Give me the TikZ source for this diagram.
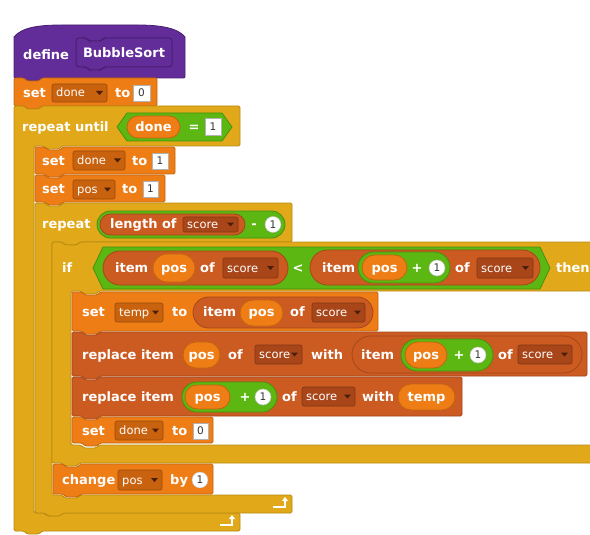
\documentclass[tikz,border=0pt]{standalone}
\usepackage{fontspec}
\setmainfont{DejaVu Sans}
\usetikzlibrary{arrows.meta}
\definecolor{ctrl}{HTML}{E1A91A}
\definecolor{ctrlD}{HTML}{B88A12}
\definecolor{var}{HTML}{EE7D16}
\definecolor{varD}{HTML}{C2650E}
\definecolor{varDD}{HTML}{C8620E}
\definecolor{lst}{HTML}{CC5B22}
\definecolor{lstD}{HTML}{A4471A}
\definecolor{lstDD}{HTML}{A8461A}
\definecolor{op}{HTML}{5CB712}
\definecolor{opD}{HTML}{47900D}
\definecolor{pur}{HTML}{632D99}
\definecolor{purD}{HTML}{472073}
\definecolor{ddarrow}{HTML}{4A1E08}
\newcommand\bfnt{\fontsize{13}{15}\selectfont\bfseries}
\newcommand\sfnt{\fontsize{11.5}{13}\selectfont}
\newcommand\nfnt{\fontsize{10.5}{12}\selectfont}
\tikzset{
 lbl/.style={anchor=base west,inner sep=0pt,text=white,font=\bfnt},
 lblc/.style={anchor=base,inner sep=0pt,text=white,font=\bfnt},
 ddt/.style={anchor=base west,inner sep=0pt,text=white,font=\sfnt},
 numt/.style={anchor=base,inner sep=0pt,text=black!80,font=\nfnt},
 blk/.style={line width=.8pt,rounded corners=1.5pt,line join=round},
 rarrow/.style={draw=white,line width=1.6pt,-{Triangle[length=4pt,width=6pt]}}
}
% stack block: fill, edge, L, T, R, B
\newcommand\Bstk[6]{%
 \filldraw[fill=#1,draw=#2,blk] (#3,#4) -- (#3+10,#4) -- (#3+13,#4+3) -- (#3+25,#4+3) -- (#3+28,#4) -- (#5,#4) -- (#5,#6) -- (#3+28,#6) -- (#3+25,#6+3) -- (#3+13,#6+3) -- (#3+10,#6) -- (#3,#6) -- cycle;}
% C block: fill, edge, L, T, R, H, A, Bt, B
\newcommand\Bc[9]{%
 \filldraw[fill=#1,draw=#2,blk] (#3,#4) -- (#3+10,#4) -- (#3+13,#4+3) -- (#3+25,#4+3) -- (#3+28,#4) -- (#5,#4) -- (#5,#6) -- (#7+28,#6) -- (#7+25,#6+3) -- (#7+13,#6+3) -- (#7+10,#6) -- (#7,#6) -- (#7,#8) -- (#7+10,#8) -- (#7+13,#8+3) -- (#7+25,#8+3) -- (#7+28,#8) -- (#5,#8) -- (#5,#9) -- (#3+28,#9) -- (#3+25,#9+3) -- (#3+13,#9+3) -- (#3+10,#9) -- (#3,#9) -- cycle;}
% hexagon: L T R B
\newcommand\Bhex[4]{%
 \filldraw[fill=op,draw=opD,line width=.8pt,line join=round] (#1,{(#2+#4)/2}) -- (#1+10,#2) -- (#3-10,#2) -- (#3,{(#2+#4)/2}) -- (#3-10,#4) -- (#1+10,#4) -- cycle;}
% oval: fill, edge, L, T, R, B
\newcommand\Bov[6]{%
 \pgfmathsetmacro\Brr{(#6-#4)/2}%
 \filldraw[fill=#1,draw=#2,line width=.8pt,rounded corners=\Brr pt] (#3,#4) rectangle (#5,#6);}
% dropdown: name, fill, L, T, R, B, text
\newcommand\Bdd[7]{%
 \filldraw[fill=#2,draw=#2!75!black,line width=.6pt,rounded corners=2pt] (#3,#4) rectangle (#5,#6);
 \node[ddt] (#1) at (#3+4,{(#4+#6)/2+4}) {#7};
 \fill[ddarrow] (#5-11,{(#4+#6)/2-2}) -- (#5-4,{(#4+#6)/2-2}) -- (#5-7.5,{(#4+#6)/2+2}) -- cycle;}
% number box: name, L, T, R, B, text
\newcommand\Bnb[6]{%
 \filldraw[fill=white,draw=gray!60,line width=.6pt] (#2,#3) rectangle (#4,#5);
 \node[numt] (#1) at ({(#2+#4)/2},{(#3+#5)/2+3.8}) {#6};}
% number circle: name, x, y, text
\newcommand\Bnc[4]{%
 \filldraw[fill=white,draw=gray!50,line width=.5pt] (#2,#3) circle[radius=8];
 \node[numt] (#1) at (#2,#3+3.8) {#4};}
\newcommand\Blb[4]{\node[lbl] (#1) at (#2,#3+4.5) {#4};}
\newcommand\Blbc[4]{\node[lblc] (#1) at (#2,#3+4.5) {#4};}
\begin{document}
\begin{tikzpicture}[x=1pt,y=-1pt]
\useasboundingbox (0,0) rectangle (590,535);
\clip (0,0) rectangle (590,535);
% define hat
\filldraw[fill=pur,draw=purD,line width=.8pt,line join=round] (14,37) .. controls (22,27) and (40,25) .. (62,25) -- (138,25) .. controls (160,25) and (178,28) .. (185,37) -- (185,76) .. controls (185,78) .. (183,78) -- (42,78) -- (39,81) -- (27,81) -- (24,78) -- (16,78) .. controls (14,78) .. (14,76) -- cycle;
\filldraw[fill=pur,draw=purD,line width=1pt,rounded corners=3pt] (76,38) -- (86,38) -- (89,41) -- (101,41) -- (104,38) -- (172,38) -- (172,67) -- (104,67) -- (101,70) -- (89,70) -- (86,67) -- (76,67) -- cycle;
\Blb{def}{23}{55}{define}
\Blbc{bs}{124}{53}{BubbleSort}
% set done to 0
\Bstk{var}{varD}{14}{78}{157}{106}
\Blb{s1}{23}{93}{set}\Bdd{d1}{varDD}{52}{84}{107}{102}{done}\Blb{s1b}{115}{93}{to}\Bnb{n1}{133}{85}{150}{101}{0}
% repeat until
\Bc{ctrl}{ctrlD}{14}{106}{240}{146}{34}{513}{531}
\Blb{ru}{22}{127}{repeat until}
\Bhex{117}{113}{232}{141}
\Bov{var}{varD}{127}{116}{180}{138}\Blbc{ov1}{153.5}{127}{done}
\Blbc{eq}{194}{127}{=}
\Bnb{n2}{205}{118}{221}{135}{1}
% set done to 1
\Bstk{var}{varD}{35}{147}{175}{174}
\Blb{s2}{42}{161}{set}\Bdd{d2}{varDD}{73}{151}{125}{170}{done}\Blb{s2b}{132}{161}{to}\Bnb{n3}{152}{153}{168}{169}{1}
% set pos to 1
\Bstk{var}{varD}{35}{175}{165}{202}
\Blb{s3}{42}{189}{set}\Bdd{d3}{varDD}{73}{180}{115}{199}{pos}\Blb{s3b}{122}{189}{to}\Bnb{n4}{143}{181}{158}{197}{1}
% repeat
\Bc{ctrl}{ctrlD}{35}{203}{292}{242}{52}{495}{513}
\Blb{rp}{42}{224}{repeat}
\Bov{op}{opD}{97}{211}{285}{238}
\Bov{lst}{lstD}{100}{214}{245}{235}\Blb{lo}{110}{224.5}{length of}\Bdd{d4}{lstDD}{183}{217}{238}{232}{score}
\Blbc{mi}{254}{224}{-}
\Bnc{n5}{273}{224.5}{1}
% if
\Bc{ctrl}{ctrlD}{52}{242}{600}{291}{71}{445}{463}
\Blb{if}{62}{268}{if}
\Bhex{93}{247}{550}{289}
\Bov{lst}{lstD}{103}{251}{288}{285}\Blb{it1}{115}{268}{item}\Bov{var}{varD}{153}{254}{195}{282}\Blbc{p1}{174}{268}{pos}\Blb{of1}{200}{268}{of}\Bdd{d5}{lstDD}{223}{258}{278}{278}{score}
\Blbc{lt}{298}{268}{<}
\Bov{lst}{lstD}{310}{250}{540}{285}\Blb{it2}{322}{268}{item}\Bov{op}{opD}{358}{252}{450}{283}\Bov{var}{varD}{362}{255}{407}{280}\Blbc{p2}{384.5}{268}{pos}\Blbc{pl1}{417}{268}{+}\Bnc{n6}{437}{268}{1}\Blb{of2}{455}{268}{of}\Bdd{d6}{lstDD}{477}{258}{533}{278}{score}
\Blb{th}{556}{268}{then}
% set temp
\Bstk{var}{varD}{72}{292}{378}{331}
\Blb{s4}{82}{312}{set}\Bdd{d7}{varDD}{115}{303}{163}{322}{temp}\Blb{s4b}{172}{312}{to}\Bov{lst}{lstD}{193}{297}{373}{328}\Blb{it3}{203}{312}{item}\Bov{var}{varD}{240}{300}{283}{326}\Blbc{p3}{261.5}{312}{pos}\Blb{of3}{290}{312}{of}\Bdd{d8}{lstDD}{312}{303}{365}{322}{score}
% replace item pos
\Bstk{lst}{lstD}{72}{332}{587}{376}
\Blb{r1}{82}{355}{replace item}\Bov{var}{varD}{183}{342}{220}{368}\Blbc{p4}{201.5}{355}{pos}\Blb{of4}{228}{355}{of}\Bdd{d9}{lstDD}{255}{345}{302}{364}{score}\Blb{w1}{311}{355}{with}
\Bov{lst}{lstD}{352}{336}{582}{373}\Blb{it4}{361}{355}{item}\Bov{op}{opD}{401}{339}{493}{371}\Bov{var}{varD}{405}{342}{447}{368}\Blbc{p5}{426}{355}{pos}\Blbc{pl2}{459}{355}{+}\Bnc{n7}{478}{355}{1}\Blb{of5}{498}{355}{of}\Bdd{d10}{lstDD}{518}{345}{572}{364}{score}
% replace item pos+1
\Bstk{lst}{lstD}{72}{377}{462}{416}
\Blb{r2}{82}{397}{replace item}\Bov{op}{opD}{182}{382}{277}{412}\Bov{var}{varD}{185}{385}{230}{409}\Blbc{p6}{207.5}{397}{pos}\Blbc{pl3}{245}{397}{+}\Bnc{n8}{263}{397}{1}\Blb{of6}{282}{397}{of}\Bdd{d11}{lstDD}{302}{387}{355}{406}{score}\Blb{w2}{362}{397}{with}\Bov{var}{varD}{398}{384}{455}{410}\Blbc{tp}{426.5}{397}{temp}
% set done to 0
\Bstk{var}{varD}{72}{417}{213}{443}
\Blb{s5}{82}{431}{set}\Bdd{d12}{varDD}{115}{421}{163}{440}{done}\Blb{s5b}{172}{431}{to}\Bnb{n9}{193}{423}{208}{439}{0}
% change pos by 1
\Bstk{var}{varD}{53}{464}{213}{494}
\Blb{ch}{62}{480}{change}\Bdd{d13}{varDD}{118}{470}{162}{490}{pos}\Blb{by}{170}{480}{by}\Bnc{n10}{200}{480}{1}
% loop arrows
\coordinate (a1) at (273,507); \coordinate (a2) at (285,507); \coordinate (a3) at (285,497);
\draw[rarrow] (a1) -- (a2) -- (a3);
\coordinate (b1) at (220,525); \coordinate (b2) at (232,525); \coordinate (b3) at (232,515);
\draw[rarrow] (b1) -- (b2) -- (b3);
\end{tikzpicture}
\end{document}
